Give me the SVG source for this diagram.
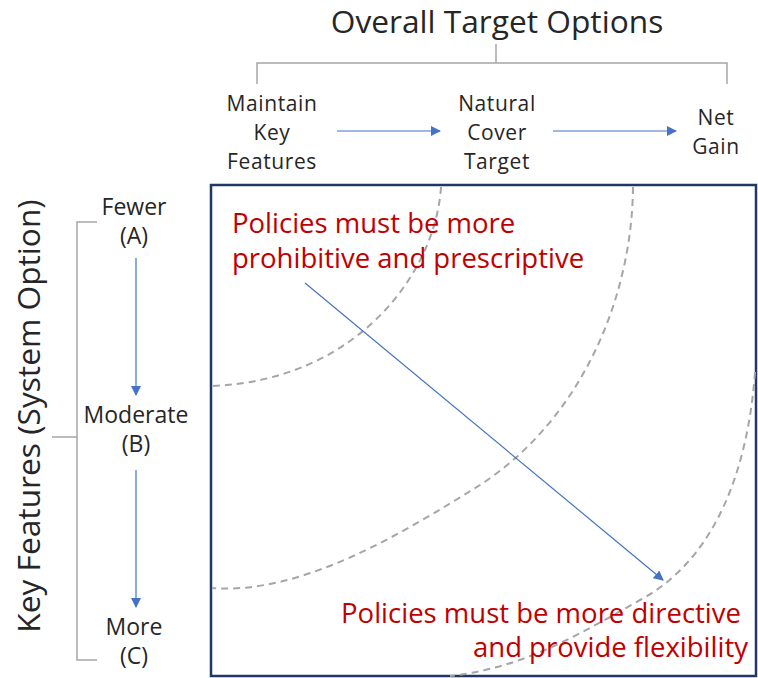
<svg xmlns="http://www.w3.org/2000/svg" width="758" height="678" viewBox="0 0 758 678">
<style>
.lbl{font-family:"Open Sans","Liberation Sans",sans-serif;fill:#262626;text-anchor:middle}
.big{font-size:31.7px}
.mid{font-size:23px}
.top{font-size:21px;letter-spacing:0.6px}
.red{font-family:"Open Sans","Liberation Sans",sans-serif;fill:#C00000;font-size:27.5px}
.gray{stroke:#A6A6A6;stroke-width:1.5;fill:none}
.dash{stroke:#A6A6A6;stroke-width:2;fill:none;stroke-dasharray:7 5}
.arr{stroke:#4472C4;stroke-width:1.2;fill:none;marker-end:url(#ah)}
</style>
<defs>
<marker id="ah" markerWidth="10" markerHeight="10" refX="9" refY="5" orient="auto" markerUnits="userSpaceOnUse">
<path d="M0,0 L10,5 L0,10 z" fill="#4472C4"/>
</marker>
</defs>
<rect width="758" height="678" fill="#FFFFFF"/>
<g id="title">
<text class="lbl big" x="497" y="33">Overall Target Options</text>
</g>
<g id="brackets">
<path class="gray" d="M496,44 V63 M257,84 V63 H727 V84"/>
<path class="gray" d="M97,222 H77 V660 H97 M52,437 H77"/>
</g>
<g id="axis-label">
<text class="lbl big" transform="translate(40,416) rotate(-90)">Key Features (System Option)</text>
</g>
<g id="node-maintain">
<text class="lbl top" x="272" y="111">Maintain</text>
<text class="lbl top" x="272" y="140">Key</text>
<text class="lbl top" x="272" y="169">Features</text>
</g>
<g id="node-natural">
<text class="lbl top" x="497" y="111">Natural</text>
<text class="lbl top" x="497" y="140">Cover</text>
<text class="lbl top" x="497" y="169">Target</text>
</g>
<g id="node-netgain">
<text class="lbl top" x="716" y="125">Net</text>
<text class="lbl top" x="716" y="154">Gain</text>
</g>
<g id="node-fewer">
<text class="lbl mid" x="134" y="215">Fewer</text>
<text class="lbl mid" x="134" y="244">(A)</text>
</g>
<g id="node-moderate">
<text class="lbl mid" x="136" y="423">Moderate</text>
<text class="lbl mid" x="136" y="452">(B)</text>
</g>
<g id="node-more">
<text class="lbl mid" x="134" y="635">More</text>
<text class="lbl mid" x="134" y="664">(C)</text>
</g>
<g id="matrix">
<rect x="211" y="185" width="545" height="491" fill="none" stroke="#1F3864" stroke-width="2.5"/>
<path class="dash" d="M441,187 C436,270 360,380 212,386"/>
<path class="dash" d="M633,187 C632,300 580,420 480,485 C400,535 300,595 212,588"/>
<path class="dash" d="M755,372 C748,470 715,560 640,600 C570,640 520,668 450,676"/>
<text class="red" x="232" y="233">Policies must be more</text>
<text class="red" x="232" y="268">prohibitive and prescriptive</text>
<text class="red" x="741" y="623" text-anchor="end">Policies must be more directive</text>
<text class="red" x="748" y="657" text-anchor="end">and provide flexibility</text>
</g>
<g id="connectors">
<path class="arr" d="M337,131 H440"/>
<path class="arr" d="M553,131 H676"/>
<path class="arr" d="M136,258 V395"/>
<path class="arr" d="M136,470 V607"/>
<path class="arr" d="M305,283 L663,580"/>
</g>
</svg>
